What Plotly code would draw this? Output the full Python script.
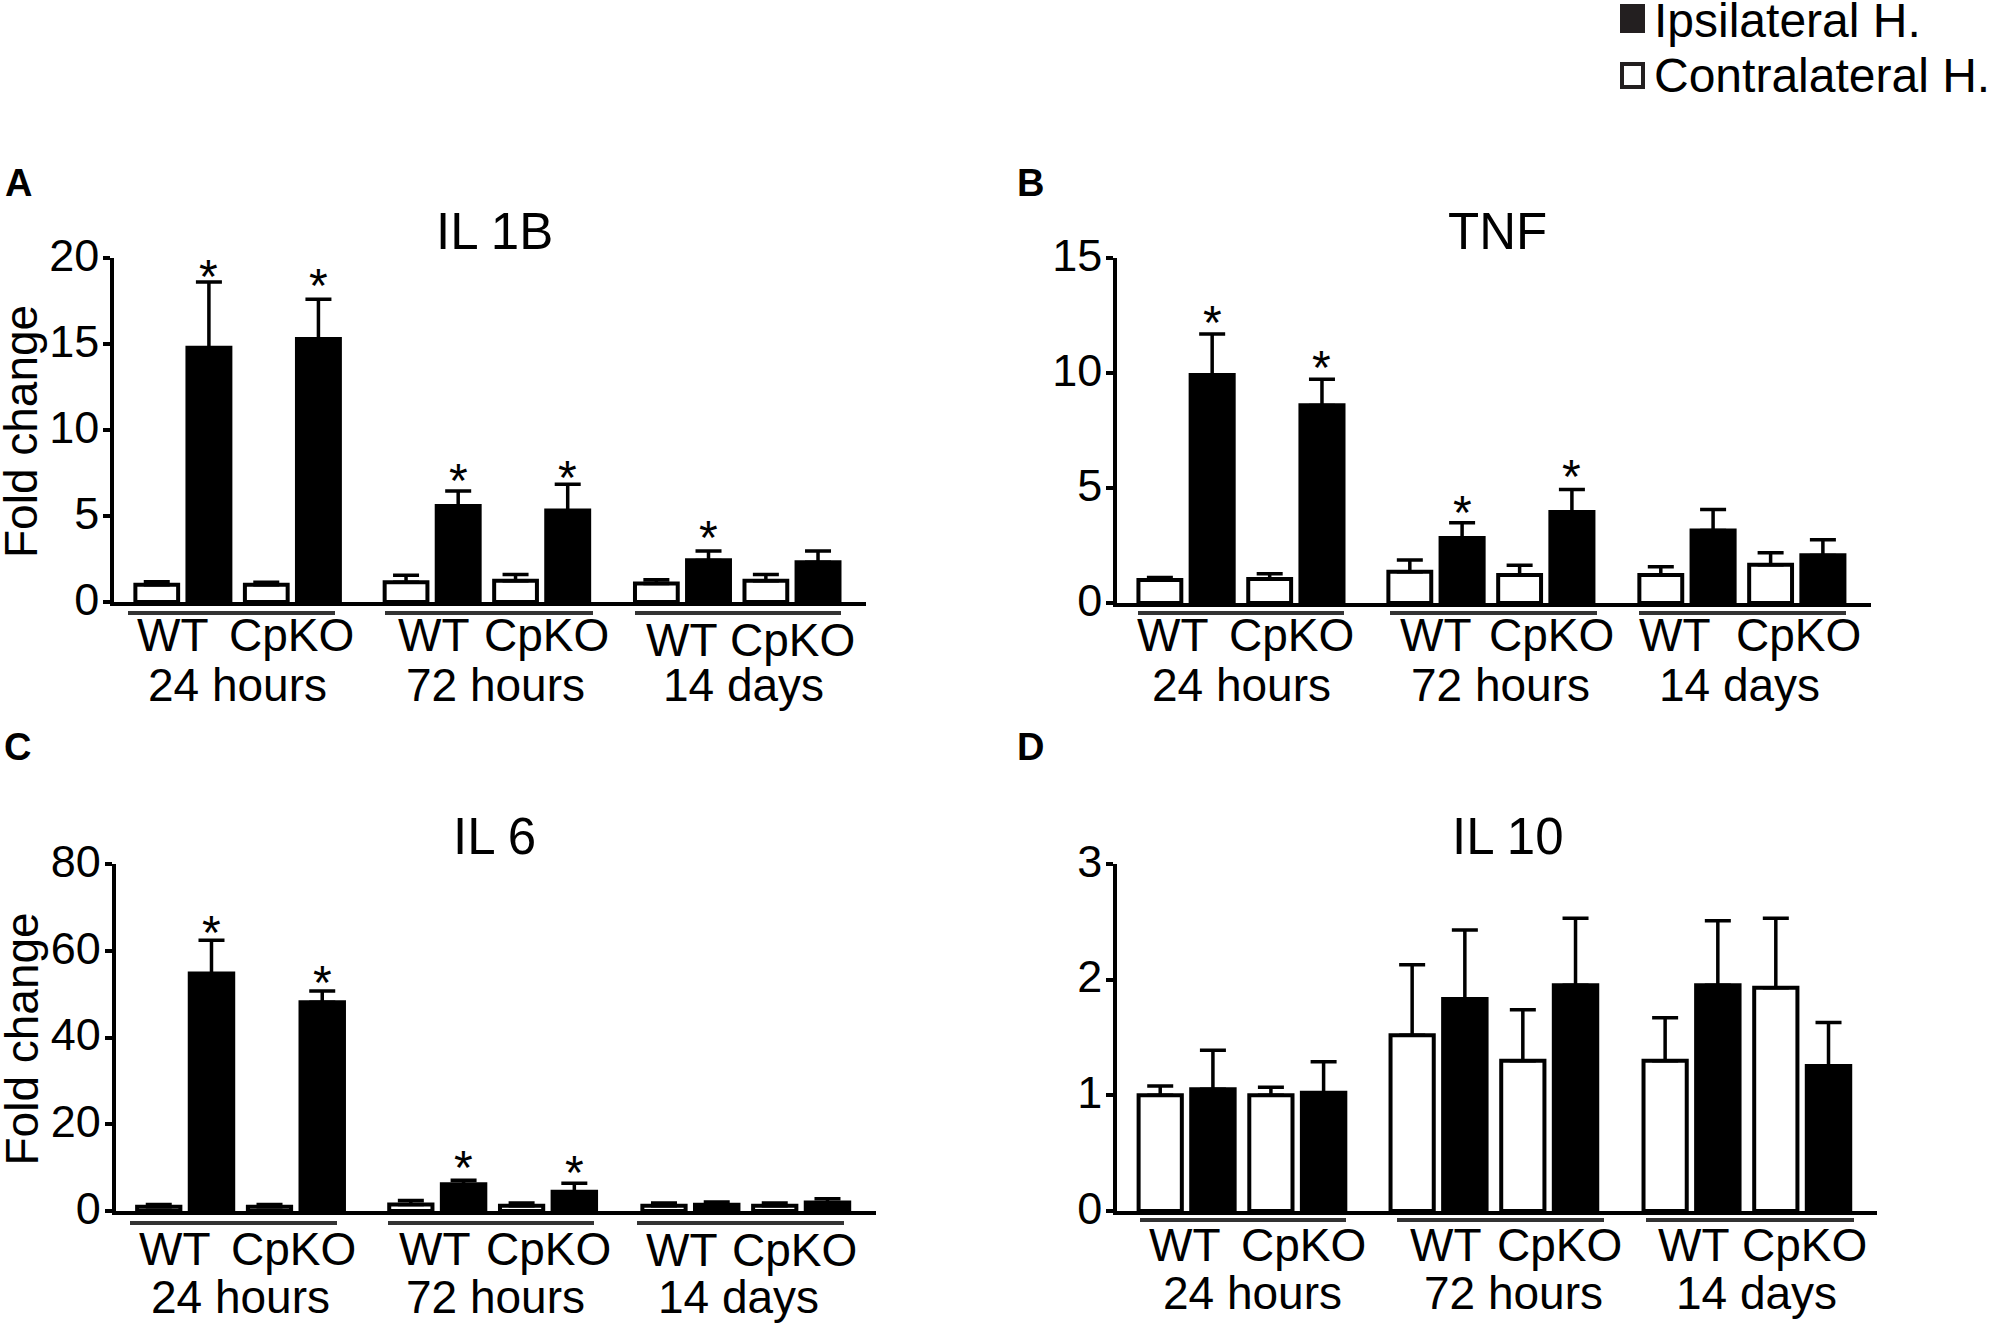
import plotly.graph_objects as go

W = 1993
H = 1326
FONT = "Liberation Sans"

strain_labels = ["WT", "CpKO"]
time_labels = ["24 hours", "72 hours", "14 days"]
legend_labels = ["Ipsilateral H.", "Contralateral H."]
panel_letters = ["A", "B", "C", "D"]
panel_titles = ["IL 1B", "TNF", "IL 6", "IL 10"]

# bar heights and top of error bars, per time point: WT then CpKO
il1b_contra = [1.0, 1.0, 1.15, 1.23, 1.08, 1.23]
il1b_contra_top = [1.18, 1.15, 1.55, 1.6, 1.3, 1.6]
il1b_ipsi = [14.9, 15.4, 5.7, 5.43, 2.54, 2.43]
il1b_ipsi_top = [18.6, 17.6, 6.45, 6.85, 2.97, 2.97]
il1b_stars = [19.2, 18.7, 7.37, 7.54, 4.03, None]
il1b_ticks = [0, 5, 10, 15, 20]

tnf_contra = [1.0, 1.04, 1.36, 1.22, 1.22, 1.66]
tnf_contra_top = [1.11, 1.27, 1.87, 1.64, 1.58, 2.19]
tnf_ipsi = [10.0, 8.68, 2.91, 4.04, 3.24, 2.16]
tnf_ipsi_top = [11.7, 9.73, 3.49, 4.94, 4.06, 2.75]
tnf_stars = [12.43, 10.45, 4.17, 5.73, None, None]
tnf_ticks = [0, 5, 10, 15]

il6_contra = [1.0, 1.0, 1.5, 1.2, 1.2, 1.2]
il6_contra_top = [1.5, 1.5, 2.4, 1.85, 1.85, 1.85]
il6_ipsi = [55.2, 48.6, 6.6, 4.9, 1.9, 2.4]
il6_ipsi_top = [62.4, 50.7, 7.1, 6.4, 2.1, 2.8]
il6_stars = [65.4, 53.9, 11.2, 10.06, None, None]
il6_ticks = [0, 20, 40, 60, 80]

il10_contra = [1.0, 1.0, 1.52, 1.3, 1.3, 1.93]
il10_contra_top = [1.08, 1.07, 2.13, 1.74, 1.67, 2.53]
il10_ipsi = [1.07, 1.04, 1.85, 1.97, 1.97, 1.27]
il10_ipsi_top = [1.39, 1.29, 2.43, 2.53, 2.51, 1.63]
il10_stars = [None, None, None, None, None, None]
il10_ticks = [0, 1, 2, 3]

# layout of each panel in page pixels
panels = [
    dict(left=114, right=866, top=258, bottom=602, contra=il1b_contra, contra_top=il1b_contra_top,
         ipsi=il1b_ipsi, ipsi_top=il1b_ipsi_top, stars=il1b_stars, ticks=il1b_ticks, ylabel=True,
         letter=(18, 183), title=(494, 231), line_y=613,
         lines=[(128, 335), (385, 593), (635, 841)],
         row1=[635, 635, 640], row2=685,
         wt=[173, 434, 682], ko=[291, 546, 792], times=[237, 495, 743]),
    dict(left=1117, right=1871, top=258, bottom=603, contra=tnf_contra, contra_top=tnf_contra_top,
         ipsi=tnf_ipsi, ipsi_top=tnf_ipsi_top, stars=tnf_stars, ticks=tnf_ticks, ylabel=False,
         letter=(1030, 183), title=(1497, 231), line_y=613,
         lines=[(1138, 1344), (1390, 1597), (1639, 1846)],
         row1=[635, 635, 635], row2=685,
         wt=[1173, 1436, 1675], ko=[1291, 1551, 1798], times=[1241, 1500, 1739]),
    dict(left=115.5, right=876, top=864, bottom=1211, contra=il6_contra, contra_top=il6_contra_top,
         ipsi=il6_ipsi, ipsi_top=il6_ipsi_top, stars=il6_stars, ticks=il6_ticks, ylabel=True,
         letter=(17, 747), title=(494, 836), line_y=1223,
         lines=[(130, 337), (388, 594), (637, 844)],
         row1=[1249, 1249, 1250], row2=1297,
         wt=[175, 435, 682], ko=[293, 548, 794], times=[240, 495, 738]),
    dict(left=1117, right=1877, top=864, bottom=1211, contra=il10_contra, contra_top=il10_contra_top,
         ipsi=il10_ipsi, ipsi_top=il10_ipsi_top, stars=il10_stars, ticks=il10_ticks, ylabel=False,
         letter=(1030, 747), title=(1508, 836), line_y=1220,
         lines=[(1140, 1346), (1397, 1604), (1646, 1854)],
         row1=[1245, 1245, 1245], row2=1293,
         wt=[1185, 1446, 1694], ko=[1303, 1559, 1804], times=[1252, 1513, 1756]),
]

X_RANGE = [-0.82, 13.6]
group_starts = [0, 4.78, 9.58]
contra_offsets = [0, 2.1]
ipsi_offsets = [1, 3.1]


def px(x):
    return x / W


def py(y):
    return 1 - y / H


def label(x, y, text, size, xanchor="center", textangle=0):
    return dict(x=px(x), y=py(y), xref="paper", yref="paper", text=text, showarrow=False,
                xanchor=xanchor, yanchor="middle", textangle=textangle,
                font=dict(family=FONT, size=size, color="black"))


fig = go.Figure()
annotations = []
shapes = []

for n, p in enumerate(panels, start=1):
    suffix = "" if n == 1 else str(n)
    x_ref = "x" + suffix
    y_ref = "y" + suffix
    contra_x = [g + o for g in group_starts for o in contra_offsets]
    ipsi_x = [g + o for g in group_starts for o in ipsi_offsets]
    # keeps the base cap of the error bar hidden inside the black bar
    hide_base = p["ticks"][-1] * 0.006

    fig.add_trace(go.Bar(x=contra_x, y=p["contra"], width=0.82, xaxis=x_ref, yaxis=y_ref,
                         marker=dict(color="white", line=dict(color="black", width=4)),
                         error_y=dict(type="data", symmetric=False,
                                      array=[t - v for t, v in zip(p["contra_top"], p["contra"])],
                                      arrayminus=[0] * 6, color="black", thickness=3.5, width=13),
                         showlegend=False))
    fig.add_trace(go.Bar(x=ipsi_x, y=p["ipsi"], width=0.9, xaxis=x_ref, yaxis=y_ref,
                         marker=dict(color="black", line=dict(width=0)),
                         error_y=dict(type="data", symmetric=False,
                                      array=[t - v for t, v in zip(p["ipsi_top"], p["ipsi"])],
                                      arrayminus=[hide_base] * 6, color="black", thickness=3.5, width=13),
                         showlegend=False))

    fig.update_layout(**{
        "xaxis" + suffix: dict(domain=[px(p["left"]), px(p["right"])], range=X_RANGE, anchor=y_ref,
                               showgrid=False, zeroline=False, showticklabels=False, ticks="",
                               showline=True, linecolor="black", linewidth=3.7),
        "yaxis" + suffix: dict(domain=[py(p["bottom"]), py(p["top"])],
                               range=[p["ticks"][0], p["ticks"][-1]], anchor=x_ref,
                               tickvals=p["ticks"], showgrid=False, zeroline=False,
                               showline=True, linecolor="black", linewidth=3.5,
                               ticks="outside", ticklen=7, tickwidth=3.5, tickcolor="black",
                               ticklabelstandoff=-5, ticklabelshift=-3,
                               tickfont=dict(family=FONT, size=45, color="black")),
    })

    for xs, star in zip(ipsi_x, p["stars"]):
        if star is not None:
            annotations.append(dict(x=xs, y=star, xref=x_ref, yref=y_ref, text="*", showarrow=False,
                                    xanchor="center", yanchor="middle", yshift=-5,
                                    font=dict(family=FONT, size=48, color="black")))

    annotations.append(label(*p["letter"], "<b>" + panel_letters[n - 1] + "</b>", 38))
    annotations.append(label(*p["title"], panel_titles[n - 1], 51))
    if p["ylabel"]:
        annotations.append(label(21, (p["top"] + p["bottom"]) / 2 + 2, "Fold change", 46, textangle=-90))

    for g in range(3):
        x0, x1 = p["lines"][g]
        shapes.append(dict(type="line", xref="paper", yref="paper", x0=px(x0), x1=px(x1),
                           y0=py(p["line_y"]), y1=py(p["line_y"]),
                           line=dict(color="#333333", width=4)))
        annotations.append(label(p["wt"][g], p["row1"][g], strain_labels[0], 46))
        annotations.append(label(p["ko"][g], p["row1"][g], strain_labels[1], 46))
        annotations.append(label(p["times"][g], p["row2"], time_labels[g], 46))

# legend drawn by hand, plotly swatches can't get this big
shapes.append(dict(type="rect", xref="paper", yref="paper", x0=px(1620), x1=px(1645), y0=py(33), y1=py(4),
                   fillcolor="#231f20", line=dict(width=0)))
shapes.append(dict(type="rect", xref="paper", yref="paper", x0=px(1622), x1=px(1643), y0=py(87), y1=py(64),
                   fillcolor="white", line=dict(color="#231f20", width=4)))
annotations.append(label(1652, 21, legend_labels[0], 48, xanchor="left"))
annotations.append(label(1652, 75, legend_labels[1], 48, xanchor="left"))

fig.update_layout(width=W, height=H, margin=dict(l=0, r=0, t=0, b=0, autoexpand=False),
                  paper_bgcolor="white", plot_bgcolor="white", barmode="overlay",
                  showlegend=False, annotations=annotations, shapes=shapes)

fig.write_html("out.html", config=dict(displayModeBar=False),
               post_script="document.body.style.margin='0';")
